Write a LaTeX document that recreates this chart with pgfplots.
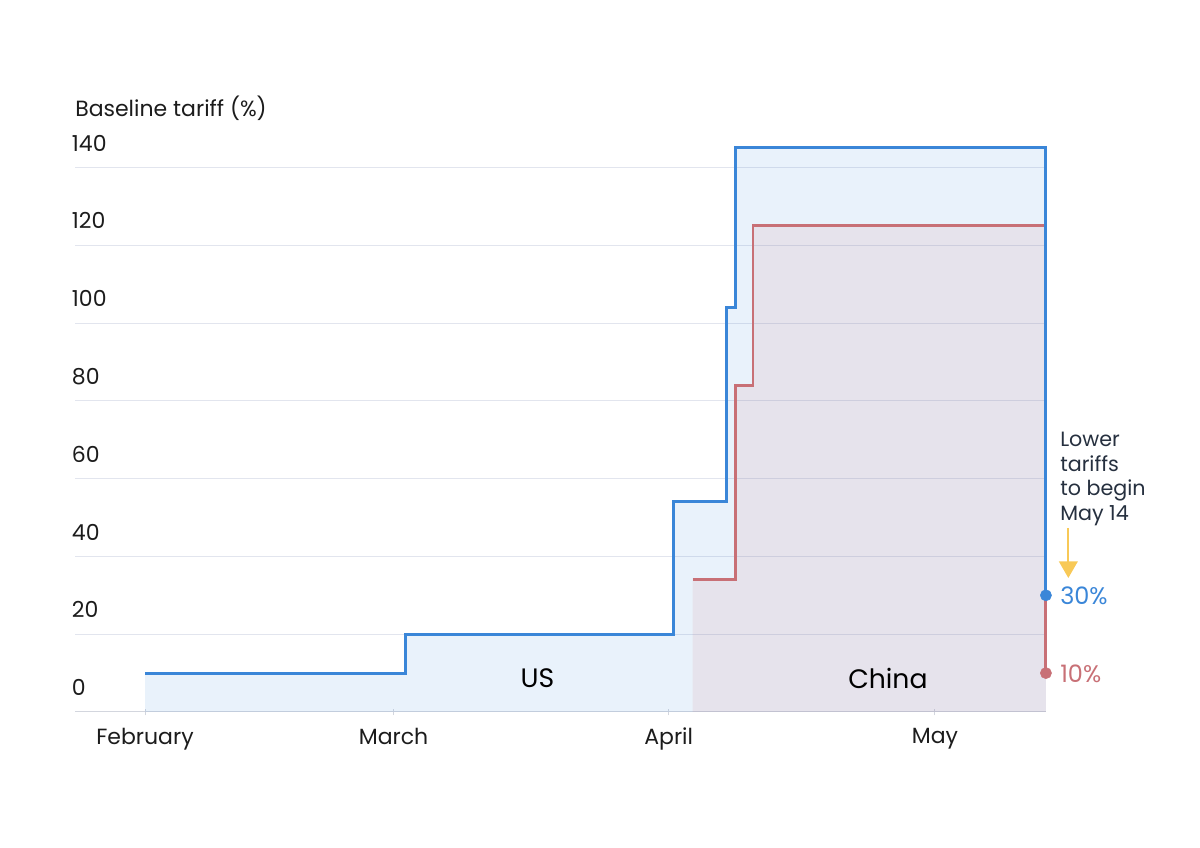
\documentclass[border=0pt]{standalone}
\usepackage{pgfplots}
\pgfplotsset{compat=1.18}
\usepackage{fontspec}
\setmainfont{Poppins}
\usetikzlibrary{arrows.meta}

\definecolor{usblue}{HTML}{3A86D8}
\definecolor{cnred}{HTML}{C87076}
\definecolor{gridc}{HTML}{E2E5EE}
\definecolor{axc}{HTML}{D3D6DE}
\definecolor{txt}{HTML}{1C1C1C}
\definecolor{navy}{HTML}{26303F}
\definecolor{arrowy}{HTML}{F8C957}
\newcommand\tickfont{\fontsize{16.5pt}{19pt}\selectfont}
\newcommand\annfont{\fontsize{15.5pt}{18pt}\selectfont}
\newcommand\pctfont{\fontsize{18pt}{20pt}\selectfont}

\begin{document}
\begin{tikzpicture}
\begin{axis}[
  at={(56.25pt,102pt)}, anchor=south west,
  scale only axis, width=728.25pt, height=423pt,
  xmin=-7.89, xmax=101.51, ymin=0, ymax=145,
  clip=false,
  axis lines*=left,
  y axis line style={draw=none},
  x axis line style={draw=axc, line width=0.75pt},
  ymajorgrids, grid style={draw=gridc, line width=0.75pt},
  ytick={0,20,40,60,80,100,120,140},
  ytick style={draw=none},
  yticklabel style={anchor=south west, inner sep=0pt, xshift=0pt, yshift=12pt, font=\tickfont, text=txt},
  xtick={0,28,59,89},
  xticklabels={February,March,April,May},
  xtick style={draw=axc, line width=0.75pt},
  major tick length=5pt, tick align=center,
  xticklabel style={font=\tickfont, text=txt, yshift=-6pt},
  /pgf/number format/assume math mode=true,
]
% fills
\addplot[draw=none, fill=usblue, fill opacity=0.11] coordinates {
 (0,0) (0,10) (29.4,10) (29.4,20) (59.5,20) (59.5,54) (65.5,54) (65.5,104) (66.5,104) (66.5,145) (101.5,145) (101.5,0)} -- cycle;
\addplot[draw=none, fill=cnred, fill opacity=0.11] coordinates {
 (61.7,0) (61.7,34) (66.5,34) (66.5,84) (68.5,84) (68.5,125) (101.5,125) (101.5,0)} -- cycle;
% lines
\addplot[cnred, line width=2.2pt, line join=miter] coordinates {
 (61.7,34) (66.5,34) (66.5,84) (68.5,84) (68.5,125) (101.5,125) (101.5,10)};
\addplot[usblue, line width=2.25pt, line join=miter] coordinates {
 (0,10) (29.4,10) (29.4,20) (59.5,20) (59.5,54) (65.5,54) (65.5,104) (66.5,104) (66.5,145) (101.5,145) (101.5,30)};
% end dots
\addplot[only marks, mark=*, mark size=4.2pt, cnred] coordinates {(101.5,10)};
\addplot[only marks, mark=*, mark size=4.2pt, usblue] coordinates {(101.5,30)};
% area labels
\node[font=\fontsize{20pt}{24pt}\selectfont, text=black] at (axis cs:44.2,8.7) {US};
\node[font=\fontsize{20pt}{24pt}\selectfont, text=black] at (axis cs:83.7,8.7) {China};
\end{axis}
% y axis title
\node[anchor=base west, inner sep=0pt, font=\tickfont, text=txt] at (56.25pt,548.5pt) {Baseline tariff (\%)};
% annotation
\begin{scope}[every node/.style={anchor=base west, inner sep=0pt, font=\annfont, text=navy}]
\node at (795pt,300.75pt) {Lower};
\node at (795pt,282pt) {tariffs};
\node at (795pt,264pt) {to begin};
\node at (795pt,245.25pt) {May 14};
\node[font=\pctfont, text=usblue] at (795pt,182.25pt) {30\%};
\node[font=\pctfont, text=cnred] at (795pt,124.25pt) {10\%};
\end{scope}
\draw[arrowy, line width=1.5pt, -{Triangle[width=14pt,length=12.5pt]}] (801.25pt,240pt) -- (801.25pt,202.5pt);
\pgfresetboundingbox
\path[use as bounding box] (0,0) rectangle (900pt,636pt);
\end{tikzpicture}
\end{document}
